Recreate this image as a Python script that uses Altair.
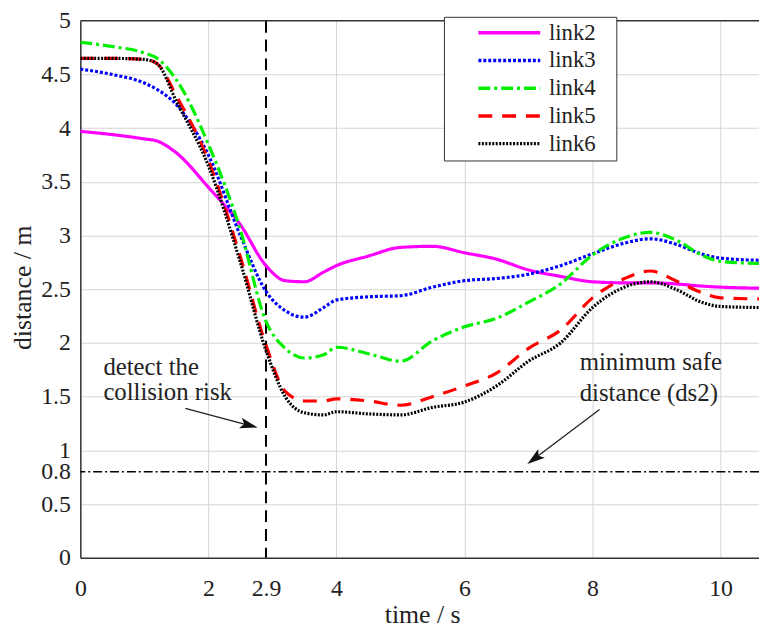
import altair as alt
import pandas as pd

# ---------------- data ----------------
time_s = [0, 0.5, 1, 1.2, 1.5, 2, 2.5, 2.9, 3.2, 3.5, 3.8, 4, 4.5, 5, 5.5,
          6, 6.5, 7, 7.5, 8, 8.5, 8.9, 9.3, 9.7, 10, 10.6]
link2 = [3.97, 3.94, 3.90, 3.88, 3.77, 3.45, 3.10, 2.72, 2.58, 2.57, 2.66, 2.72, 2.81, 2.89, 2.90,
         2.84, 2.78, 2.68, 2.62, 2.57, 2.56, 2.56, 2.55, 2.53, 2.52, 2.51]
link3 = [4.55, 4.50, 4.42, 4.36, 4.22, 3.75, 3.00, 2.48, 2.30, 2.24, 2.33, 2.40, 2.43, 2.44, 2.52,
         2.58, 2.60, 2.64, 2.72, 2.83, 2.93, 2.97, 2.92, 2.83, 2.79, 2.77]
link4 = [4.80, 4.76, 4.70, 4.65, 4.45, 3.85, 3.05, 2.20, 1.95, 1.86, 1.89, 1.96, 1.90, 1.83, 2.02,
         2.15, 2.23, 2.38, 2.55, 2.82, 2.98, 3.03, 2.96, 2.82, 2.76, 2.74]
link5 = [4.65, 4.65, 4.64, 4.60, 4.30, 3.70, 2.80, 1.98, 1.55, 1.46, 1.46, 1.48, 1.46, 1.42, 1.50,
         1.60, 1.72, 1.95, 2.12, 2.42, 2.60, 2.67, 2.58, 2.47, 2.42, 2.41]
link6 = [4.65, 4.65, 4.64, 4.60, 4.25, 3.65, 2.75, 1.93, 1.50, 1.35, 1.33, 1.36, 1.34, 1.33, 1.40,
         1.45, 1.60, 1.83, 2.00, 2.33, 2.52, 2.57, 2.50, 2.38, 2.34, 2.33]

series_names = ["link2", "link3", "link4", "link5", "link6"]
series_values = [link2, link3, link4, link5, link6]
series_colors = ["#ff00ff", "#0000ff", "#00ee00", "#ff0000", "#000000"]
series_dashes = [[1, 0], [3, 2], [12, 4, 3, 4], [14, 10], [2, 1.5]]

x_ticks = [0, 2, 2.9, 4, 6, 8, 10]
y_ticks = [0, 0.5, 0.8, 1, 1.5, 2, 2.5, 3, 3.5, 4, 4.5, 5]

detect_time = 2.9
safe_distance = 0.8
top_value = 5

# annotation texts
ann_text = ["detect the", "collision risk", "minimum safe", "distance (ds2)"]
ann_t = [0.36, 0.36, 7.8, 7.8]
ann_d = [1.78, 1.54, 1.82, 1.53]

# arrows (start -> head centre)
arrow_id = ["a1", "a2"]
arrow_t0 = [1.64, 8.11]
arrow_d0 = [1.39, 1.38]
arrow_t1 = [2.62, 7.105]
arrow_d1 = [1.236, 0.928]
arrow_angle = [104.6, 233]
ARROW_HEAD = "M0,-1L0.55,0.8L0,0.4L-0.55,0.8Z"

# ---------------- tables ----------------
rows = []
for name, vals in zip(series_names, series_values):
    for t, v in zip(time_s, vals):
        rows.append({"time": t, "distance": v, "series": name})
df = pd.DataFrame(rows)

ann_df = pd.DataFrame({"text": ann_text, "time": ann_t, "distance": ann_d})
shaft_rows = []
for i, a in enumerate(arrow_id):
    shaft_rows.append({"id": a, "time": arrow_t0[i], "distance": arrow_d0[i], "o": 0})
    shaft_rows.append({"id": a, "time": arrow_t1[i], "distance": arrow_d1[i], "o": 1})
shaft_df = pd.DataFrame(shaft_rows)
head_df = pd.DataFrame({"id": arrow_id, "time": arrow_t1, "distance": arrow_d1, "angle": arrow_angle})

FONT = "Liberation Serif"
x_scale = alt.Scale(domain=[0, 10.6], nice=False, zero=False)
y_scale = alt.Scale(domain=[0, 5], nice=False)

legend = alt.Legend(
    title="\u2002", titleOrient="right", titlePadding=16, titleFontSize=20,
    orient="none", legendX=367, legendY=-4,
    symbolType="stroke", symbolSize=3900, symbolStrokeWidth=3.5,
    clipHeight=22, rowPadding=5, padding=5, symbolOffset=28, labelOffset=7,
    labelFont=FONT, labelFontSize=23, labelColor="#222",
    strokeColor="#333", fillColor="white",
)

x_axis = alt.Axis(
    values=x_ticks, format="~g", title="time / s", ticks=False, tickSize=0,
    labelPadding=19, labelFlush=False, labelOverlap=False,
    gridOpacity={"condition": {"test": "datum.value === 2.9", "value": 0}, "value": 1},
    titleX=345, titleY=57, titleBaseline="middle", titleAlign="center",
)
y_axis = alt.Axis(
    values=y_ticks, format="~g", title="distance / m", ticks=False, tickSize=0,
    labelPadding=10, labelFlush=False, labelOverlap=False,
    gridOpacity={"condition": {"test": "datum.value === 0.8 || datum.value === 0 || datum.value === 5", "value": 0}, "value": 1},
    titleX=-58, titleY=269, titleBaseline="middle", titleAlign="center", titleAngle=270,
)

lines = alt.Chart(df).mark_line(strokeWidth=3.2, interpolate="monotone", clip=True).encode(
    x=alt.X("time:Q", scale=x_scale, axis=x_axis),
    y=alt.Y("distance:Q", scale=y_scale, axis=y_axis),
    color=alt.Color("series:N", scale=alt.Scale(domain=series_names, range=series_colors), legend=legend),
    strokeDash=alt.StrokeDash("series:N", scale=alt.Scale(domain=series_names, range=series_dashes), legend=legend),
)

top_rule = alt.Chart(pd.DataFrame({"y": [top_value]})).mark_rule(color="#333", strokeWidth=1.5).encode(
    y=alt.Y("y:Q", scale=y_scale)
)
v_rule = alt.Chart(pd.DataFrame({"x": [detect_time]})).mark_rule(color="black", strokeWidth=2, strokeDash=[12, 7]).encode(
    x=alt.X("x:Q", scale=x_scale)
)
h_rule = alt.Chart(pd.DataFrame({"y": [safe_distance]})).mark_rule(color="black", strokeWidth=1.5, strokeDash=[9, 3, 2, 3]).encode(
    y=alt.Y("y:Q", scale=y_scale)
)

texts = alt.Chart(ann_df).mark_text(font=FONT, fontSize=25, color="#222", align="left", baseline="middle").encode(
    x=alt.X("time:Q", scale=x_scale), y=alt.Y("distance:Q", scale=y_scale), text="text:N"
)
shafts = alt.Chart(shaft_df).mark_line(color="#222", strokeWidth=1.3).encode(
    x=alt.X("time:Q", scale=x_scale), y=alt.Y("distance:Q", scale=y_scale), detail="id:N", order="o:Q"
)
heads = alt.Chart(head_df).mark_point(shape=ARROW_HEAD, filled=True, color="#111", size=400, opacity=1).encode(
    x=alt.X("time:Q", scale=x_scale), y=alt.Y("distance:Q", scale=y_scale), angle=alt.Angle("angle:Q", scale=None)
)

chart = alt.layer(v_rule, h_rule, top_rule, lines, shafts, heads, texts).properties(
    width=685, height=542,
    autosize=alt.AutoSizeParams(type="none"),
    padding={"left": 73, "top": 10, "right": 0, "bottom": 70},
).configure_view(stroke=None).configure_axis(
    labelFont=FONT, labelFontSize=24, labelColor="#222",
    titleFont=FONT, titleFontSize=26, titleColor="#222", titleFontWeight="normal",
    domainColor="#333", domainWidth=1.5, gridColor="#d4d4d4", gridWidth=1,
)

chart.save("out.html", embed_options={"renderer": "svg", "actions": False})
